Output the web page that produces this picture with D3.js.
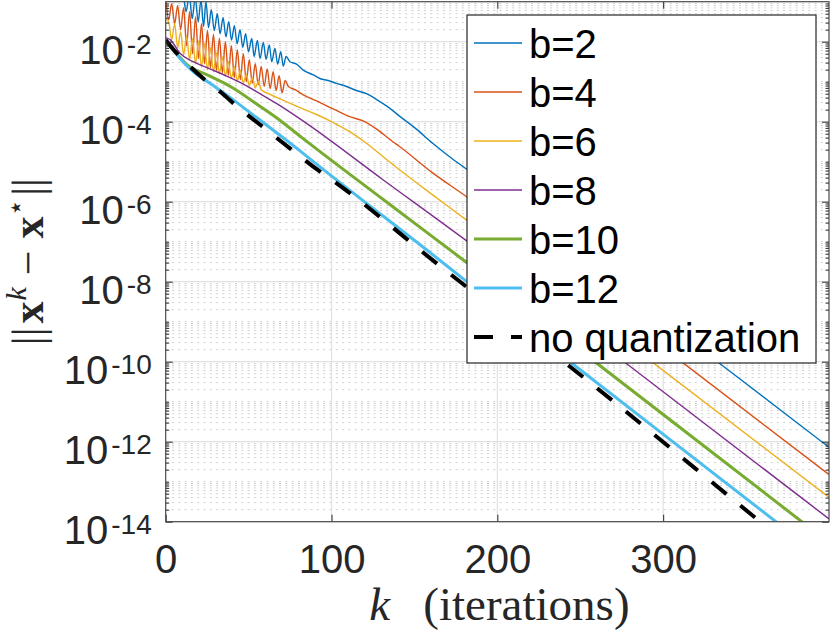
<!DOCTYPE html>
<html>
<head>
<meta charset="utf-8">
<script src="https://cdnjs.cloudflare.com/ajax/libs/d3/7.8.5/d3.min.js"></script>
<style>
  body { margin: 0; background: #fff; }
  svg { display: block; }
</style>
</head>
<body>
<svg id="chart"></svg>
<script>
// values are [k, log10 of ||x^k - x*||]
const b2 = [[0,-0.5],[4,-0.7],[8,-0.9],[10.5,-0.85],[12.3,-1.25],[14.2,-0.85],[16,-1.42],[17.8,-0.9],[19.6,-1.5],[21.3,-0.95],[22.8,-1.62],[24.3,-1.0],[25.8,-1.65],[27.5,-1.2],[29.3,-1.72],[31.1,-1.3],[32.8,-1.8],[34.6,-1.4],[36.3,-1.88],[38,-1.5],[39.7,-1.96],[41.4,-1.6],[43.1,-2.05],[44.8,-1.7],[46.5,-2.14],[48.2,-1.8],[49.9,-2.25],[51.9,-1.92],[53.3,-2.37],[55.3,-1.97],[56.9,-2.42],[58.9,-2.02],[60.5,-2.44],[62.5,-2.08],[63.9,-2.5],[65.9,-2.17],[67.5,-2.56],[69.4,-2.25],[70.9,-2.61],[72.6,-2.37],[74.9,-2.5],[78.9,-2.56],[82.9,-2.71],[89,-2.83],[93,-2.92],[98,-2.97],[103,-3.04],[109,-3.12],[115,-3.22],[121,-3.3],[127,-3.44],[134,-3.63],[141,-3.86],[151,-4.18],[161,-4.54],[171,-4.87],[181.5,-5.19],[250,-7.37],[334.3,-10.05],[400,-12.14]];
const b4 = [[0,-0.9],[1.8,-1.45],[3.6,-1.05],[5.4,-1.55],[7.2,-1.1],[9,-1.7],[10.8,-1.15],[12.6,-2.1],[14.4,-1.25],[16.2,-2.3],[18,-1.38],[19.8,-2.42],[21.6,-1.55],[23.4,-2.55],[25.2,-1.72],[27,-2.65],[28.8,-1.82],[30.6,-2.72],[32.4,-1.92],[34.2,-2.78],[36,-2.0],[37.8,-2.84],[39.6,-2.1],[41.4,-2.9],[43.2,-2.2],[45,-2.95],[46.8,-2.3],[48.6,-3.0],[50.4,-2.45],[52.2,-3.04],[54,-2.55],[55.8,-3.08],[57.6,-2.62],[59.4,-3.12],[61.2,-2.68],[63,-3.17],[64.8,-2.75],[66.6,-3.22],[68.4,-2.85],[70.2,-3.28],[72,-2.97],[74,-3.12],[78,-3.2],[83,-3.33],[91,-3.48],[101,-3.68],[111,-3.875],[119,-3.98],[127,-4.18],[137,-4.5],[141,-4.62],[161,-5.28],[181.5,-5.875],[250,-8.05],[312,-10.03],[400,-12.82]];
const b6 = [[0,-1.42],[1.8,-1.5],[3.6,-1.95],[5.4,-1.55],[7.2,-2.15],[9,-1.75],[10.8,-2.33],[12.6,-1.85],[14.4,-2.45],[16.2,-1.92],[18,-2.55],[19.8,-1.98],[21.6,-2.63],[23.4,-2.05],[25.2,-2.7],[27,-2.15],[28.8,-2.75],[30.6,-2.27],[32.4,-2.8],[34.2,-2.38],[36,-2.86],[37.8,-2.5],[39.6,-2.92],[41.4,-2.62],[43.2,-2.98],[45,-2.72],[46.8,-3.03],[48.6,-2.82],[50.4,-3.09],[52.2,-2.9],[54,-3.15],[55.8,-3.0],[57.6,-3.2],[62,-3.3],[70,-3.45],[81,-3.65],[91,-3.82],[101,-4.02],[111,-4.25],[121,-4.54],[131,-4.87],[141,-5.2],[161,-5.83],[181.5,-6.46],[250,-8.63],[295,-10.06],[400,-13.39]];
const b8 = [[0,-1.9],[3,-1.96],[8.6,-2.29],[16.6,-2.5],[26.7,-2.68],[36.8,-2.86],[46.8,-3.06],[56.9,-3.3],[67,-3.55],[81,-3.93],[131,-5.45],[181.5,-6.98],[278,-10.05],[400,-13.93]];
const b10 = [[0,-1.96],[5,-2.22],[13,-2.58],[25,-2.83],[39,-3.12],[57,-3.62],[70,-4.0],[81,-4.36],[131,-5.94],[181.5,-7.52],[260,-10.04],[383.6,-14],[400,-14.53]];
const b12 = [[0,-1.96],[4,-2.18],[8.6,-2.42],[16.6,-2.75],[26.7,-3.04],[36.8,-3.33],[48.9,-3.71],[81,-4.73],[94,-5.16],[168.5,-7.57],[181.5,-8.0],[244.9,-10.04],[368,-14],[400,-15.03]];
const noQuant = [[0,-1.96],[5,-2.21],[15,-2.63],[25,-3.0],[34,-3.29],[43,-3.62],[52,-3.915],[61,-4.21],[71,-4.54],[80,-4.83],[89,-5.125],[99,-5.415],[168.5,-7.71],[241.9,-10.06],[358.5,-14],[400,-15.4]];

const seriesNames = ["b=2", "b=4", "b=6", "b=8", "b=10", "b=12", "no quantization"];
const seriesData = [b2, b4, b6, b8, b10, b12, noQuant];
const xTicks = [0, 100, 200, 300];
const yTickExps = [-14, -12, -10, -8, -6, -4, -2];

const colors = ["#0072BD", "#D95319", "#EDB120", "#7E2F8E", "#77AC30", "#4DBEEE", "#000000"];
const widths = [1.4, 1.4, 1.4, 1.4, 3, 3, 4];
const dashes = [null, null, null, null, null, null, "19,18"];

const svgWidth = 830;
const svgHeight = 634;
const margin = { top: 1.7, right: 1, bottom: 112.3, left: 165.7 };
const width = svgWidth - margin.left - margin.right;
const height = svgHeight - margin.top - margin.bottom;
const ink = "#262626";

const svg = d3.select("#chart").attr("width", svgWidth).attr("height", svgHeight);
const g = svg.append("g").attr("transform", `translate(${margin.left},${margin.top})`);

const x = d3.scaleLinear().domain([0, 400]).range([0, width]);
const y = d3.scaleLog().domain([1e-14, 1e-1]).range([height, 0]);

// minor log positions: 2..9 of every decade plus the odd decades
const minorVals = [];
for (let e = -14; e < -1; e++) {
  for (let m = 1; m <= 9; m++) {
    if (m === 1 && e % 2 === 0) continue;
    minorVals.push(m * Math.pow(10, e));
  }
}
const majorVals = yTickExps.map((e) => Math.pow(10, e));

// grid
g.append("g").selectAll("line").data(minorVals).join("line")
  .attr("x1", 0).attr("x2", width)
  .attr("y1", (d) => y(d)).attr("y2", (d) => y(d))
  .attr("stroke", "#cfcfcf").attr("stroke-width", 1)
  .attr("stroke-dasharray", "2,4.3");
g.append("g").selectAll("line").data(majorVals).join("line")
  .attr("x1", 0).attr("x2", width)
  .attr("y1", (d) => y(d)).attr("y2", (d) => y(d))
  .attr("stroke", "#e1e1e1").attr("stroke-width", 1.2);
g.append("g").selectAll("line").data(xTicks.slice(1)).join("line")
  .attr("x1", (d) => x(d)).attr("x2", (d) => x(d))
  .attr("y1", 0).attr("y2", height)
  .attr("stroke", "#e1e1e1").attr("stroke-width", 1.2);

// clip
g.append("defs").append("clipPath").attr("id", "clip")
  .append("rect").attr("width", width).attr("height", height);

const line = d3.line()
  .x((d) => x(d[0]))
  .y((d) => y(Math.pow(10, d[1])))
  .curve(d3.curveMonotoneX);

g.append("g").attr("clip-path", "url(#clip)")
  .selectAll("path").data(seriesData).join("path")
  .attr("d", line)
  .attr("fill", "none")
  .attr("stroke", (d, i) => colors[i])
  .attr("stroke-width", (d, i) => widths[i])
  .attr("stroke-dasharray", (d, i) => dashes[i])
  .attr("stroke-linejoin", "round");

// axes (ticks inward on all four sides)
const styleAxis = (sel) => {
  sel.select(".domain").remove();
  sel.selectAll(".tick line").attr("stroke", ink).attr("stroke-width", 1);
};

const xAxis = g.append("g").attr("transform", `translate(0,${height})`)
  .call(d3.axisBottom(x).tickValues(xTicks).tickSize(-7).tickPadding(23).tickFormat(d3.format("d")));
styleAxis(xAxis);
xAxis.selectAll("text")
  .attr("font-family", "'Liberation Sans', Arial, sans-serif")
  .attr("font-size", 40).attr("fill", ink);

g.append("g").call(d3.axisTop(x).tickValues(xTicks.slice(1)).tickSize(-7).tickFormat("")).call(styleAxis);

const yAxis = g.append("g")
  .call(d3.axisLeft(y).tickValues(majorVals).tickSize(-7).tickPadding(14).tickFormat(""));
styleAxis(yAxis);
yAxis.selectAll(".tick text").each(function (d) {
  const t = d3.select(this)
    .attr("dy", null).attr("y", 21.3)
    .attr("font-family", "'Liberation Sans', Arial, sans-serif")
    .attr("font-size", 40).attr("fill", ink)
    .attr("text-anchor", "end");
  t.append("tspan").text("10");
  t.append("tspan").attr("dy", -10).attr("dx", 3).attr("font-size", 28)
    .text(String(Math.round(Math.log10(d))));
});

g.append("g").call(d3.axisLeft(y).tickValues(minorVals).tickSize(-3.5).tickFormat("")).call(styleAxis);
g.append("g").attr("transform", `translate(${width},0)`)
  .call(d3.axisRight(y).tickValues(majorVals).tickSize(-7).tickFormat("")).call(styleAxis);
g.append("g").attr("transform", `translate(${width},0)`)
  .call(d3.axisRight(y).tickValues(minorVals).tickSize(-3.5).tickFormat("")).call(styleAxis);

// box
g.append("rect").attr("width", width).attr("height", height)
  .attr("fill", "none").attr("stroke", "#4a4a4a").attr("stroke-width", 1.2);

// axis labels
const cx = margin.left + width / 2;
const serif = "'Liberation Serif', 'Times New Roman', serif";
svg.append("text").attr("x", cx - 128).attr("y", 620)
  .attr("font-family", serif).attr("font-size", 47).attr("font-style", "italic")
  .attr("fill", ink).text("k");
svg.append("text").attr("x", cx - 74).attr("y", 620)
  .attr("font-family", serif).attr("font-size", 47)
  .attr("fill", ink).text("(iterations)");

const yl = svg.append("text")
  .attr("transform", `translate(43,${margin.top + height / 2}) rotate(-90)`)
  .attr("text-anchor", "middle")
  .attr("font-family", serif).attr("font-size", 44).attr("fill", ink);
yl.append("tspan").text("||");
yl.append("tspan").attr("dx", 4).attr("font-weight", "bold").text("x");
yl.append("tspan").attr("dy", -17).attr("dx", 1).attr("font-size", 30).attr("font-style", "italic").text("k");
yl.append("tspan").attr("dy", 17).attr("dx", 12).text("\u2212");
yl.append("tspan").attr("dx", 12).attr("font-weight", "bold").text("x");
yl.append("tspan").attr("dy", -18).attr("font-size", 28).attr("font-family", "'DejaVu Sans', sans-serif").text("\u22C6");
yl.append("tspan").attr("dy", 18).attr("dx", 3).text("||");

// legend
const legend = svg.append("g");
legend.append("rect")
  .attr("x", 467).attr("y", 15).attr("width", 349).attr("height", 348)
  .attr("fill", "#fff").attr("stroke", ink).attr("stroke-width", 1.2);
const rows = legend.selectAll("g.row").data(seriesNames).join("g")
  .attr("class", "row")
  .attr("transform", (d, i) => `translate(474,${43 + i * 49})`);
rows.append("line")
  .attr("x1", 0).attr("x2", 48)
  .attr("stroke", (d, i) => colors[i])
  .attr("stroke-width", (d, i) => widths[i])
  .attr("stroke-dasharray", (d, i) => dashes[i]);
rows.append("text")
  .attr("x", 55).attr("y", 15)
  .attr("font-family", "'Liberation Sans', Arial, sans-serif")
  .attr("font-size", 40).attr("fill", "#000")
  .text((d) => d);
</script>
</body>
</html>
